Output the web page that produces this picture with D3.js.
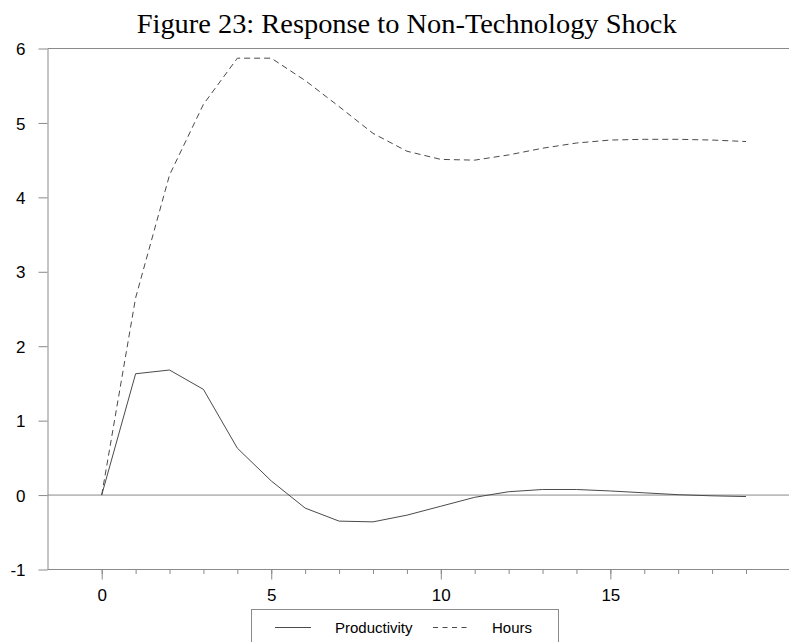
<!DOCTYPE html>
<html>
<head>
<meta charset="utf-8">
<script src="https://cdn.jsdelivr.net/npm/d3@7"></script>
<style>
  html, body { margin: 0; padding: 0; background: #fff; }
  svg { display: block; }
</style>
</head>
<body>
<svg id="chart" width="789" height="642"></svg>
<script>
const periods = d3.range(0, 20);
const productivity = [0, 1.63, 1.68, 1.42, 0.63, 0.19, -0.175, -0.35, -0.36, -0.27, -0.15, -0.03, 0.045, 0.075, 0.075, 0.055, 0.03, 0.005, -0.01, -0.02];
const hours = [0, 2.65, 4.3, 5.25, 5.87, 5.87, 5.57, 5.22, 4.86, 4.62, 4.51, 4.5, 4.57, 4.66, 4.73, 4.77, 4.78, 4.78, 4.77, 4.75];
const yTicks = [-1, 0, 1, 2, 3, 4, 5, 6];
const xMajorTicks = [0, 5, 10, 15];
const xMinorTicks = d3.range(0, 20);
const titleText = "Figure 23: Response to Non-Technology Shock";
const seriesNames = ["Productivity", "Hours"];

const svg = d3.select("#chart");
const axisColor = "#8a8a8a";
const lineColor = "#4a4a4a";

const x = d3.scaleLinear().domain([0, 19]).range([101.7, 746]);
const y = d3.scaleLinear().domain([-1, 6]).range([569.5, 48.5]);

// frame lines (top and bottom span to the right edge)
svg.append("line").attr("x1", 47.5).attr("x2", 789).attr("y1", y(6)).attr("y2", y(6))
  .attr("stroke", axisColor).attr("stroke-width", 1);
svg.append("line").attr("x1", 47.5).attr("x2", 789).attr("y1", y(-1)).attr("y2", y(-1))
  .attr("stroke", axisColor).attr("stroke-width", 1);
// zero line
svg.append("line").attr("x1", 47.5).attr("x2", 789).attr("y1", y(0)).attr("y2", y(0))
  .attr("stroke", axisColor).attr("stroke-width", 1);

// Y axis
const yAxis = svg.append("g").attr("transform", "translate(47.5,0)")
  .call(d3.axisLeft(y).tickValues(yTicks).tickFormat(d => String(d)).tickSize(9).tickSizeOuter(0).tickPadding(13));
yAxis.select(".domain").attr("stroke", axisColor);
yAxis.selectAll(".tick line").attr("stroke", axisColor);
yAxis.selectAll(".tick text").attr("fill", "#000").attr("font-family", "Liberation Sans, Arial, sans-serif").attr("font-size", 17).attr("dy", "0.36em");

// X axis minor ticks
const xMinor = svg.append("g").attr("transform", `translate(0,${y(-1)})`)
  .call(d3.axisBottom(x).tickValues(xMinorTicks).tickFormat("").tickSize(4.5).tickSizeOuter(0));
xMinor.select(".domain").remove();
xMinor.selectAll(".tick line").attr("stroke", axisColor);

// X axis major ticks
const xMajor = svg.append("g").attr("transform", `translate(0,${y(-1)})`)
  .call(d3.axisBottom(x).tickValues(xMajorTicks).tickFormat(d => String(d)).tickSize(10).tickSizeOuter(0).tickPadding(9));
xMajor.select(".domain").remove();
xMajor.selectAll(".tick line").attr("stroke", axisColor);
xMajor.selectAll(".tick text").attr("fill", "#000").attr("font-family", "Liberation Sans, Arial, sans-serif").attr("font-size", 17);

// lines
const lineGen = d3.line().x((d, i) => x(periods[i])).y(d => y(d));
svg.append("path").datum(productivity).attr("d", lineGen)
  .attr("fill", "none").attr("stroke", lineColor).attr("stroke-width", 1);
svg.append("path").datum(hours).attr("d", lineGen)
  .attr("fill", "none").attr("stroke", lineColor).attr("stroke-width", 1).attr("stroke-dasharray", "6,4");

// title
svg.append("text").attr("x", 406.7).attr("y", 32.5).attr("text-anchor", "middle")
  .attr("font-family", "Liberation Serif, 'Times New Roman', serif").attr("font-size", 28)
  .attr("textLength", 540).attr("lengthAdjust", "spacingAndGlyphs")
  .attr("fill", "#000").text(titleText);

// legend
const lg = svg.append("g");
lg.append("rect").attr("x", 251.5).attr("y", 609.5).attr("width", 307).attr("height", 60)
  .attr("fill", "#fff").attr("stroke", axisColor).attr("stroke-width", 1);
const legendItems = [
  { name: seriesNames[0], x1: 275, x2: 311, tx: 335, dash: null },
  { name: seriesNames[1], x1: 433, x2: 469, tx: 492, dash: "5,4.5" }
];
legendItems.forEach(it => {
  lg.append("line").attr("x1", it.x1).attr("x2", it.x2).attr("y1", 627.5).attr("y2", 627.5)
    .attr("stroke", lineColor).attr("stroke-width", 1).attr("stroke-dasharray", it.dash);
  lg.append("text").attr("x", it.tx).attr("y", 633).attr("font-family", "Liberation Sans, Arial, sans-serif")
    .attr("font-size", 15).attr("fill", "#000").text(it.name);
});
</script>
</body>
</html>
